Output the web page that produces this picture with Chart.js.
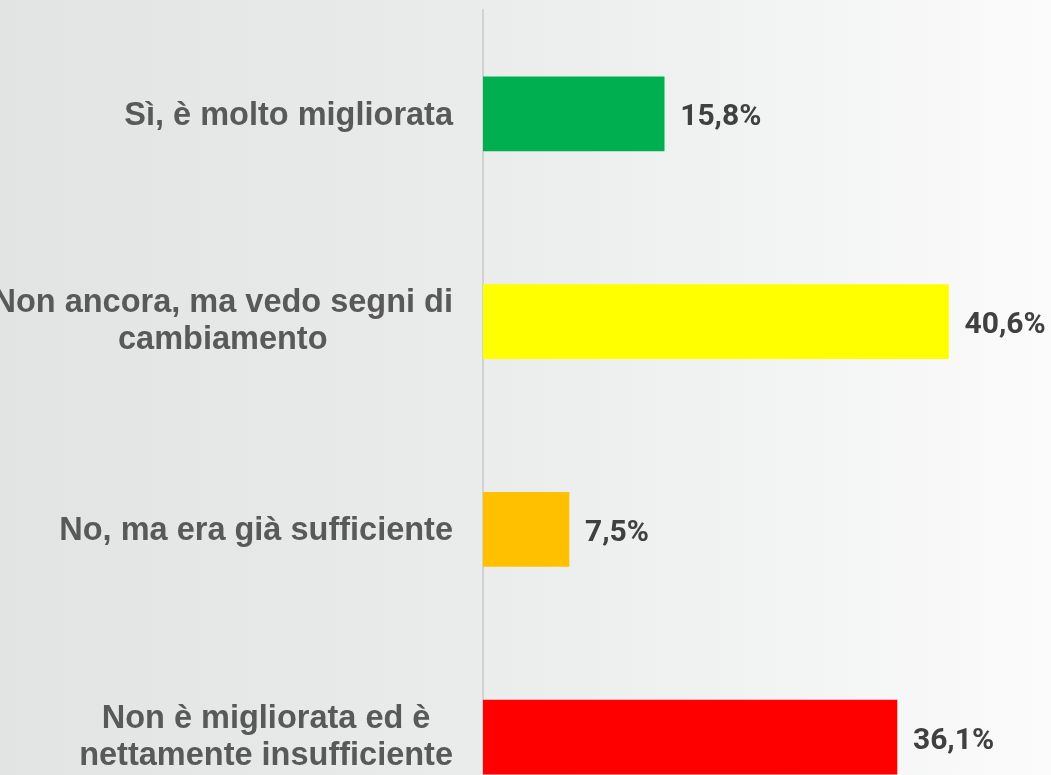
<!DOCTYPE html>
<html>
<head>
<meta charset="utf-8">
<script src="https://cdn.jsdelivr.net/npm/chart.js@4/dist/chart.umd.min.js"></script>
<style>
  html, body { margin: 0; padding: 0; overflow: hidden; }
  body {
    width: 1051px; height: 775px;
    background: linear-gradient(90deg, #e2e3e3 0%, #e9eaea 40%, #f1f2f2 70%, #fbfbfb 100%);
  }
  #wrap { position: absolute; left: 0; top: 0; width: 1051px; height: 841px; }
</style>
</head>
<body>
<div id="wrap"><canvas id="chartMiglioramento"></canvas></div>
<script>
const categorie = [
  ['Sì, è molto migliorata'],
  ['Non ancora, ma vedo segni di', 'cambiamento'],
  ['No, ma era già sufficiente'],
  ['Non è migliorata ed è', 'nettamente insufficiente']
];
const percentuali = [15.8, 40.6, 7.5, 36.1];
const colori = ['#00b050', '#ffff00', '#ffc000', '#ff0000'];

// etichette categorie: blocco allineato a destra, righe centrate tra loro
const etichetteCategorie = {
  id: 'etichetteCategorie',
  afterDraw(chart) {
    const ctx = chart.ctx;
    const yScale = chart.scales.y;
    const xRight = yScale.right - 30;
    const lh = 37;
    ctx.save();
    ctx.font = 'bold 32.5px "Liberation Sans", Arial, sans-serif';
    ctx.fillStyle = '#595959';
    ctx.textAlign = 'center';
    ctx.textBaseline = 'alphabetic';
    categorie.forEach((righe, i) => {
      const y = yScale.getPixelForValue(i);
      const w = Math.max(...righe.map(r => ctx.measureText(r).width));
      const cx = xRight - w / 2;
      const top = y + 11 - (righe.length - 1) * lh / 2 - (righe.length > 1 ? 2 : 0);
      righe.forEach((r, j) => ctx.fillText(r, cx, top + j * lh));
    });
    ctx.restore();
  }
};

// valori a destra delle barre
const etichetteValori = {
  id: 'etichetteValori',
  afterDatasetsDraw(chart) {
    const ctx = chart.ctx;
    const meta = chart.getDatasetMeta(0);
    ctx.save();
    ctx.font = 'bold 30px Roboto, sans-serif';
    ctx.fillStyle = '#404040';
    ctx.textAlign = 'left';
    ctx.textBaseline = 'alphabetic';
    meta.data.forEach((bar, i) => {
      const testo = percentuali[i].toFixed(1).replace('.', ',') + '%';
      ctx.fillText(testo, bar.x + 16, bar.y + 11.5);
    });
    ctx.restore();
  }
};

const ctxMiglioramento = document.getElementById('chartMiglioramento');

new Chart(ctxMiglioramento, {
  type: 'bar',
  data: {
    labels: categorie,
    datasets: [{
      data: percentuali,
      backgroundColor: colori,
      borderWidth: 0,
      barThickness: 74
    }]
  },
  options: {
    indexAxis: 'y',
    responsive: true,
    maintainAspectRatio: false,
    animation: false,
    layout: { padding: { top: 10, right: 52, bottom: 0, left: 0 } },
    scales: {
      x: {
        display: false,
        min: 0,
        max: 45
      },
      y: {
        grid: { display: false },
        ticks: { display: false },
        border: { display: true, color: '#d2d2d2', width: 2 },
        afterFit(scale) { scale.width = 483; }
      }
    },
    plugins: {
      legend: { display: false },
      tooltip: { enabled: false }
    }
  },
  plugins: [etichetteCategorie, etichetteValori]
});
</script>
</body>
</html>
